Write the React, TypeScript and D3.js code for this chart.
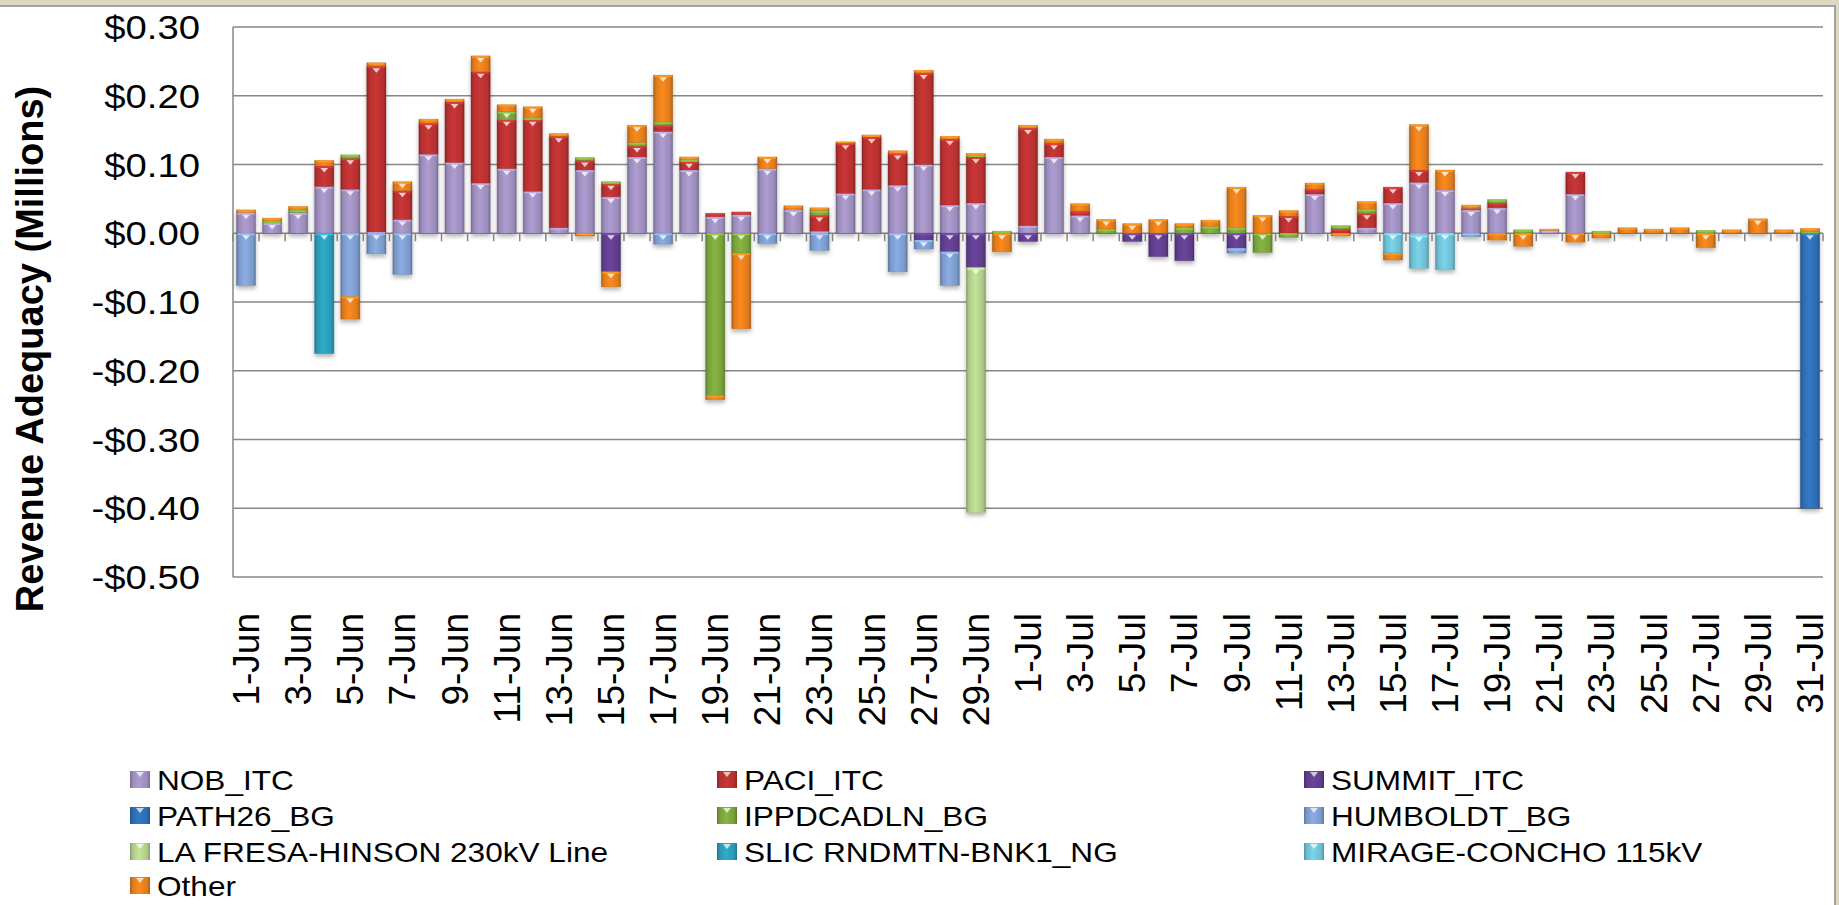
import React from "react";
import * as d3 from "d3";

// categories (every day, June + July)
const days = [
  "1-Jun", "2-Jun", "3-Jun", "4-Jun", "5-Jun", "6-Jun", "7-Jun", "8-Jun", "9-Jun", "10-Jun",
  "11-Jun", "12-Jun", "13-Jun", "14-Jun", "15-Jun", "16-Jun", "17-Jun", "18-Jun", "19-Jun", "20-Jun",
  "21-Jun", "22-Jun", "23-Jun", "24-Jun", "25-Jun", "26-Jun", "27-Jun", "28-Jun", "29-Jun", "30-Jun",
  "1-Jul", "2-Jul", "3-Jul", "4-Jul", "5-Jul", "6-Jul", "7-Jul", "8-Jul", "9-Jul", "10-Jul",
  "11-Jul", "12-Jul", "13-Jul", "14-Jul", "15-Jul", "16-Jul", "17-Jul", "18-Jul", "19-Jul", "20-Jul",
  "21-Jul", "22-Jul", "23-Jul", "24-Jul", "25-Jul", "26-Jul", "27-Jul", "28-Jul", "29-Jul", "30-Jul",
  "31-Jul",
];

// $ millions, first line June, second line July
const nobItc = [
  0.030, 0.015, 0.030, 0.068, 0.064, 0.002, 0.020, 0.115, 0.103, 0.073, 0.094, 0.061, 0.008, 0.092, 0.053, 0.111, 0.148, 0.092, 0.024, 0.027, 0.094, 0.034, 0.003, 0.058, 0.064, 0.070, 0.100, 0.041, 0.044, 0,
  0.011, 0.111, 0.026, 0, 0, 0, 0, 0, 0, 0, 0, 0.057, 0, 0.008, 0.044, 0.074, 0.063, 0.034, 0.037, 0, 0.004, 0.057, 0, 0, 0, 0, 0, 0, 0, 0, 0,
];
const paciItc = [
  0, 0, 0, 0.030, 0.045, 0.241, 0.042, 0.045, 0.088, 0.162, 0.071, 0.104, 0.133, 0.014, 0.019, 0.016, 0.009, 0.012, 0.005, 0.004, 0, 0, 0.023, 0.073, 0.076, 0.046, 0.133, 0.096, 0.067, 0,
  0.142, 0.020, 0.006, 0, 0, 0, 0, 0, 0, 0, 0.025, 0.007, 0.006, 0.021, 0.023, 0.018, 0, 0.002, 0.007, 0, 0, 0.032, 0, 0, 0, 0, 0, 0, 0, 0, 0,
];
const summitItc = [
  0, 0, 0, 0, 0, 0, 0, 0, 0, 0, 0, 0, 0, 0, -0.056, 0, 0, 0, 0, 0, 0, 0, 0, 0, 0, 0, -0.010, -0.027, -0.050, 0,
  -0.012, 0, 0, 0, -0.012, -0.034, -0.040, 0, -0.022, 0, 0, 0, 0, 0, 0, 0, 0, 0, 0, 0, 0, 0, 0, 0, 0, 0, 0, 0, 0, 0, 0,
];
const path26Bg = [
  0, 0, 0, 0, 0, 0, 0, 0, 0, 0, 0, 0, 0, 0, 0, 0, 0, 0, 0, 0, 0, 0, 0, 0, 0, 0, 0, 0, 0, 0,
  0, 0, 0, 0, 0, 0, 0, 0, 0, 0, 0, 0, 0, 0, 0, 0, 0, 0, 0, 0, 0, 0, 0, 0, 0, 0, 0, 0, 0, 0, -0.400,
];
const ippdcadlnBg = [
  0, 0.003, 0.004, 0, 0.005, 0, 0, 0, 0, 0, 0.012, 0.003, 0, 0.004, 0.003, 0.005, 0.005, 0.003, -0.236, -0.029, 0, 0, 0.007, 0, 0, 0, 0, 0, 0.003, 0.003,
  0, 0, 0, 0.006, 0, 0, 0.008, 0.010, 0.008, -0.028, -0.006, 0, 0.005, 0.006, 0, 0, 0, 0, 0.005, 0.005, 0, 0, 0.003, 0, 0, 0, 0.004, 0, 0, 0, 0.002,
];
const humboldtBg = [
  -0.076, 0, 0, 0, -0.092, -0.030, -0.060, 0, 0, 0, 0, 0, 0, 0, 0, 0, -0.016, 0, 0, 0, -0.015, 0, -0.025, 0, 0, -0.056, -0.013, -0.049, 0, 0,
  0, 0, 0, 0, 0, 0, 0, 0, -0.007, 0, 0, 0, 0, 0, 0, -0.003, 0, -0.005, 0, 0, 0, 0, 0, 0, 0, 0, 0, 0, 0, 0, 0,
];
const laFresa = [
  0, 0, 0, 0, 0, 0, 0, 0, 0, 0, 0, 0, 0, 0, 0, 0, 0, 0, 0, 0, 0, 0, 0, 0, 0, 0, 0, 0, -0.356, 0,
  0, 0, 0, 0, 0, 0, 0, 0, 0, 0, 0, 0, 0, 0, 0, 0, 0, 0, 0, 0, 0, 0, 0, 0, 0, 0, 0, 0, 0, 0, 0,
];
const slicRndmtn = [
  0, 0, 0, -0.175, 0, 0, 0, 0, 0, 0, 0, 0, 0, 0, 0, 0, 0, 0, 0, 0, 0, 0, 0, 0, 0, 0, 0, 0, 0, 0,
  0, 0, 0, 0, 0, 0, 0, 0, 0, 0, 0, 0, 0, 0, 0, 0, 0, 0, 0, 0, 0, 0, 0, 0, 0, 0, 0, 0, 0, 0, 0,
];
const mirageConcho = [
  0, 0, 0, 0, 0, 0, 0, 0, 0, 0, 0, 0, 0, 0, 0, 0, 0, 0, 0, 0, 0, 0, 0, 0, 0, 0, 0, 0, 0, 0,
  0, 0, 0, 0, 0, 0, 0, 0, 0, 0, 0, 0, 0, 0, -0.029, -0.048, -0.053, 0, 0, 0, 0, 0, 0, 0, 0, 0, 0, 0, 0, 0, 0,
];
const other = [
  0.004, 0.004, 0.005, 0.008, -0.033, 0.005, 0.013, 0.006, 0.004, 0.023, 0.010, 0.016, 0.004, -0.004, -0.022, 0.025, 0.068, 0.004, -0.006, -0.110, 0.017, 0.006, 0.004, 0.002, 0.003, 0.004, 0.004, 0.004, 0.002, -0.027,
  0.004, 0.006, 0.011, 0.014, 0.014, 0.020, 0.006, 0.009, 0.059, 0.026, 0.008, 0.009, -0.004, 0.011, -0.010, 0.066, 0.029, 0.005, -0.010, -0.019, 0.002, -0.013, -0.007, 0.008, 0.006, 0.008, -0.021, 0.005, 0.021, 0.005, 0.005,
];

const seriesNames = [
  "NOB_ITC", "PACI_ITC", "SUMMIT_ITC",
  "PATH26_BG", "IPPDCADLN_BG", "HUMBOLDT_BG",
  "LA FRESA-HINSON 230kV Line", "SLIC RNDMTN-BNK1_NG", "MIRAGE-CONCHO 115kV",
  "Other",
];
const seriesValues = [nobItc, paciItc, summitItc, path26Bg, ippdcadlnBg, humboldtBg, laFresa, slicRndmtn, mirageConcho, other];
const seriesColors = [
  "#9a8bb9", "#b3302f", "#5e3d8a",
  "#2d6bb0", "#76a03a", "#7a99c8",
  "#adc987", "#2998b3", "#6cbcd0",
  "#de7a1c",
];

const yTicks = [-0.5, -0.4, -0.3, -0.2, -0.1, 0, 0.1, 0.2, 0.3];

const W = 1839;
const H = 905;
const left = 233;
const right = 1823;
const top = 27;
const bottom = 577;
const font = "'Liberation Sans', Arial, sans-serif";

const fmtMoney = (v: number) => (v < 0 ? "-" : "") + "$" + Math.abs(v).toFixed(2);

export default function App() {
  const x = d3.scaleBand<string>().domain(days).range([left, right]).paddingInner(0.26).paddingOuter(0.13);
  const y = d3.scaleLinear().domain([-0.5, 0.3]).range([bottom, top]);
  const bw = x.bandwidth();
  const step = x.step();

  // one row per day, keyed by series name
  const rows = days.map((d, i) => {
    const r: { [k: string]: any } = { day: d };
    seriesNames.forEach((s, j) => (r[s] = seriesValues[j][i]));
    return r;
  });
  const stacked = d3.stack<any>().keys(seriesNames).offset(d3.stackOffsetDiverging)(rows);

  const y0 = y(0);

  return (
    <svg width={W} height={H} style={{ position: "absolute", left: 0, top: 0, display: "block" }} fontFamily={font}>
      <defs>
        {seriesColors.map((c, i) => {
          const dark = d3.color(c)!.darker(0.7).formatHex();
          const light = d3.color(c)!.brighter(0.35).formatHex();
          return (
            <linearGradient key={i} id={`grad${i}`} x1="0" x2="1" y1="0" y2="0">
              <stop offset="0" stopColor={dark} />
              <stop offset="0.14" stopColor={c} />
              <stop offset="0.45" stopColor={light} />
              <stop offset="0.86" stopColor={c} />
              <stop offset="1" stopColor={dark} />
            </linearGradient>
          );
        })}
        <filter id="shadow" x="-20%" y="-20%" width="140%" height="140%">
          <feDropShadow dx="0" dy="3" stdDeviation="2" floodColor="#000" floodOpacity="0.3" />
        </filter>
      </defs>

      {/* outer frame */}
      <rect x={0} y={0} width={W} height={H} fill="#dcd8c2" />
      <rect x={-2} y={6} width={1837} height={H} fill="#fff" stroke="#8a8a8a" strokeWidth={1.5} />

      {/* gridlines */}
      {yTicks.map((t) => (
        <line key={t} x1={left} x2={right} y1={y(t)} y2={y(t)} stroke="#878787" strokeWidth={1.5} />
      ))}
      <line x1={left} x2={left} y1={top} y2={bottom} stroke="#878787" strokeWidth={1.5} />

      {/* ticks on the zero line */}
      {days.concat([""]).map((d, i) => {
        const tx = left + i * step;
        return <line key={i} x1={tx} x2={tx} y1={y0} y2={y0 + 8} stroke="#878787" strokeWidth={1.5} />;
      })}

      {/* stacked bars */}
      <g filter="url(#shadow)">
        {stacked.map((layer, j) =>
          layer.map((p, i) => {
            if (p[0] === p[1]) return null;
            const yt = Math.min(y(p[0]), y(p[1]));
            const yb = Math.max(y(p[0]), y(p[1]));
            const h = yb - yt;
            const bx = x(days[i])!;
            const cx = bx + bw / 2;
            const c = seriesColors[j];
            return (
              <g key={`${j}-${i}`}>
                <rect x={bx} y={yt} width={bw} height={Math.max(h, 1)} fill={`url(#grad${j})`} stroke={d3.color(c)!.darker(0.8).formatHex()} strokeOpacity={0.35} strokeWidth={0.8} />
                <rect x={bx + 1} y={yt} width={bw - 2} height={Math.min(2, h)} fill={d3.color(c)!.brighter(0.8).formatHex()} opacity={0.7} />
                {h > 8 && (
                  <path
                    d={`M${cx - bw * 0.2},${yt + 2}L${cx + bw * 0.2},${yt + 2}L${cx},${yt + 6.5}Z`}
                    fill="#fff"
                    opacity={0.75}
                  />
                )}
              </g>
            );
          })
        )}
      </g>

      {/* y tick labels */}
      {yTicks.map((t) => (
        <text key={t} transform={`translate(200,${y(t) + 12}) scale(1.16,1)`} textAnchor="end" fontSize={33} fill="#000">
          {fmtMoney(t)}
        </text>
      ))}

      {/* x labels, every other day */}
      {days.map((d, i) =>
        i % 2 === 0 ? (
          <text key={d} transform={`translate(${x(d)! + bw / 2 + 13},613) rotate(-90)`} textAnchor="end" fontSize={37} fill="#000">
            {d}
          </text>
        ) : null
      )}

      {/* y axis title */}
      <text transform="translate(43,349) rotate(-90)" textAnchor="middle" fontSize={38} fontWeight="bold" fill="#000">
        Revenue Adequacy (Millions)
      </text>

      {/* legend */}
      {seriesNames.map((s, i) => {
        const lx = [130, 717, 1304][i % 3];
        const ly = [780, 816, 852, 886][Math.floor(i / 3)];
        return (
          <g key={s}>
            <rect x={lx} y={ly - 9} width={20} height={17} fill={`url(#grad${i})`} />
            <path d={`M${lx + 6},${ly - 8}L${lx + 14},${ly - 8}L${lx + 10},${ly - 3}Z`} fill="#fff" opacity={0.7} />
            <text transform={`translate(${lx + 27},${ly + 10}) scale(1.17,1)`} fontSize={27} fill="#000">
              {s}
            </text>
          </g>
        );
      })}
    </svg>
  );
}
